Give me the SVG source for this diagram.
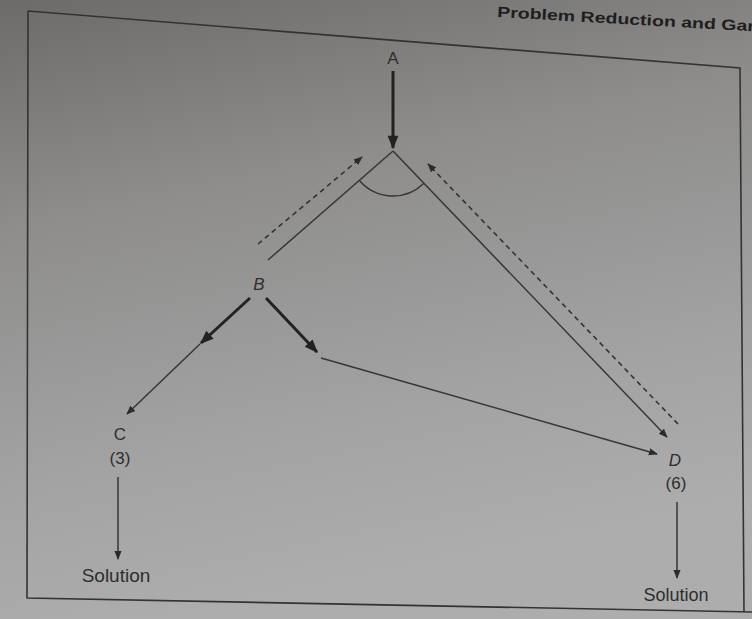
<svg xmlns="http://www.w3.org/2000/svg" width="752" height="619" viewBox="0 0 752 619">
<defs>
<linearGradient id="bg" x1="0" y1="0" x2="0.25" y2="1">
<stop offset="0" stop-color="#6d6b69"/>
<stop offset="0.35" stop-color="#8e8d8c"/>
<stop offset="0.75" stop-color="#a3a3a3"/>
<stop offset="1" stop-color="#adadad"/>
</linearGradient>
<marker id="ah" viewBox="0 0 10 10" refX="9" refY="5" markerWidth="9" markerHeight="9" markerUnits="userSpaceOnUse" orient="auto">
<path d="M0,1 L10,5 L0,9 Z" fill="#2b2b2b"/>
</marker>
<marker id="ahb" viewBox="0 0 10 10" refX="9" refY="5" markerWidth="5" markerHeight="4.5" orient="auto">
<path d="M0,1 L10,5 L0,9 Z" fill="#222"/>
</marker>
</defs>
<style>
.lbl{font-family:"Liberation Sans",Arial,sans-serif;fill:#2e2e2e;text-anchor:middle}
.thin{stroke:#363636;stroke-width:1.5;fill:none}
.thick{stroke:#222;stroke-width:3;fill:none}
.dash{stroke:#333;stroke-width:1.6;stroke-dasharray:5 4;fill:none}
.frame{stroke:#333;stroke-width:1.6;fill:none}
</style>
<rect x="0" y="0" width="752" height="619" fill="url(#bg)"/>
<path class="frame" d="M28,11 L740,68 L744,612 M28,11 L27,598 L752,612"/>
<text x="497" y="17" transform="rotate(3.2 497 17)" font-family="Liberation Sans,Arial,sans-serif" font-weight="bold" font-size="15" fill="#1e1e1e" textLength="258" lengthAdjust="spacingAndGlyphs">Problem Reduction and Gar</text>
<g id="connectors">
<line class="thick" x1="393" y1="71" x2="393" y2="148" marker-end="url(#ahb)"/>
<line class="thin" x1="393" y1="151" x2="268" y2="260"/>
<line class="thin" x1="393" y1="151" x2="667" y2="437" marker-end="url(#ah)"/>
<path class="thin" d="M359.7,180.8 A44,44 0 0 0 423.4,183.8"/>
<line class="dash" x1="258" y1="244" x2="362" y2="157" marker-end="url(#ah)"/>
<line class="dash" x1="678" y1="424" x2="428" y2="164" marker-end="url(#ah)"/>
<line class="thick" x1="250" y1="298" x2="201" y2="343" marker-end="url(#ahb)"/>
<line class="thin" x1="200" y1="344" x2="127" y2="414" marker-end="url(#ah)"/>
<line class="thick" x1="266" y1="298" x2="317" y2="352" marker-end="url(#ahb)"/>
<line class="thin" x1="321" y1="358" x2="657" y2="454" marker-end="url(#ah)"/>
<line class="thin" x1="118" y1="477" x2="118" y2="559" marker-end="url(#ah)"/>
<line class="thin" x1="677" y1="502" x2="677" y2="578" marker-end="url(#ah)"/>
</g>
<g id="node-A"><text class="lbl" x="393" y="64" font-size="17">A</text></g>
<g id="node-B"><text class="lbl" x="259" y="290" font-size="17" font-style="italic">B</text></g>
<g id="node-C"><text class="lbl" x="120" y="440" font-size="17">C</text><text class="lbl" x="120" y="464" font-size="17">(3)</text></g>
<g id="node-D"><text class="lbl" x="675" y="466" font-size="17" font-style="italic">D</text><text class="lbl" x="676" y="489" font-size="17">(6)</text></g>
<g id="node-solC"><text class="lbl" x="116" y="582" font-size="19">Solution</text></g>
<g id="node-solD"><text class="lbl" x="676" y="601" font-size="18">Solution</text></g>
</svg>
